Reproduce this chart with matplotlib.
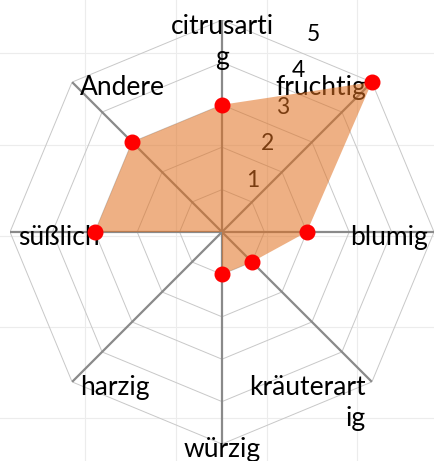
import numpy as np
import matplotlib.pyplot as plt
import textwrap

categories = ['citrusartig', 'fruchtig', 'blumig', 'kräuterartig',
              'würzig', 'harzig', 'süßlich', 'Andere']
values = [3, 5, 2, 1, 1, 0, 3, 3]
ticks = [1, 2, 3, 4, 5]
rmax = 5

plt.rcParams['font.family'] = ['Lato', 'DejaVu Sans']

fig = plt.figure(figsize=(4.35, 4.61), dpi=100)

# faint background grid
bg = fig.add_axes([0, 0, 1, 1], zorder=-1)
bg.set_xlim(0, 435)
bg.set_ylim(461, 0)
bg.set_xticks([85, 176, 267, 357])
bg.set_yticks([53, 145, 236, 327, 418])
bg.grid(color='#ececec', lw=0.8)
bg.tick_params(length=0, labelbottom=False, labelleft=False)
for s in bg.spines.values():
    s.set_visible(False)

ax = fig.add_axes([10/435, 17/461, 424/435, 424/461], polar=True)
ax.set_facecolor('none')
ax.set_theta_offset(np.pi/2)
ax.set_theta_direction(-1)
ax.set_ylim(0, rmax)
ax.grid(False)
ax.spines['polar'].set_visible(False)
ax.set_xticks([])
ax.set_yticks([])

n = len(categories)
angles = np.linspace(0, 2*np.pi, n, endpoint=False)
ring = np.append(angles, angles[0])

# octagon rings and spokes
for t in ticks:
    ax.plot(ring, [t]*(n+1), color='#c8c8c8', lw=0.7, zorder=1)
for a in angles:
    ax.plot([a, a], [0, rmax], color='#8a8a8a', lw=1.6, zorder=1)

# category labels (wrapped at 10 chars)
for a, lab in zip(angles, categories):
    lines = textwrap.wrap(lab, 10)
    s = np.sin(a)
    if abs(s) < 1e-6:
        ha, dx = 'center', 0
    elif s > 0:
        ha, dx = 'right', -6
    else:
        ha, dx = 'left', 8
    dy = -3 if len(lines) == 1 else -16
    ax.annotate('\n'.join(lines), xy=(a, rmax), xytext=(dx, dy),
                textcoords='offset pixels', ha=ha, va='center_baseline',
                fontsize=19, linespacing=1.3, zorder=2,
                annotation_clip=False)

# radial tick labels
for t in ticks:
    ax.annotate(str(t), xy=(np.pi/8, 0.51 + 0.934*t), xytext=(7, -3),
                textcoords='offset pixels', ha='center', va='center_baseline',
                fontsize=16.5, zorder=2, annotation_clip=False)

vals = np.append(values, values[0])
ax.fill(ring, vals, color='#e07020', alpha=0.55, lw=0, zorder=3)
v = np.array(values, dtype=float)
m = v > 0
ax.plot(angles[m], v[m], 'o', color='red', ms=10.5, zorder=4, clip_on=False)

plt.savefig('out.png', dpi=100)
